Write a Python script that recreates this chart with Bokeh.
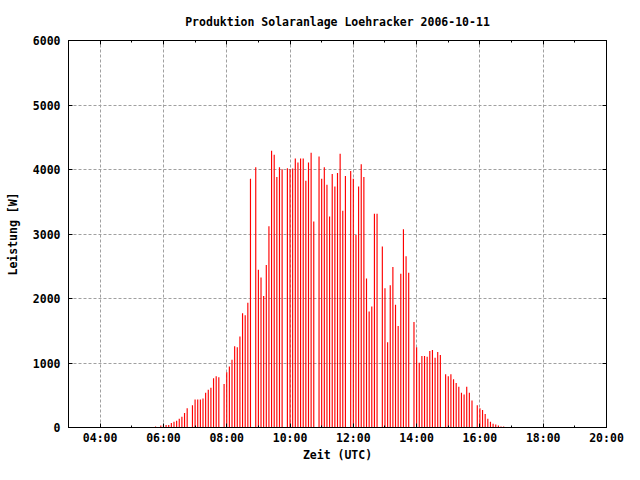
from bokeh.plotting import figure
from bokeh.models import Range1d, FixedTicker, LinearAxis, CustomJSTickFormatter
from bokeh.embed import file_html
from bokeh.resources import INLINE

# Sample times (UTC) and measured power [W]
times = [
    "05:45", "05:55", "06:00", "06:05", "06:10", "06:15", "06:20", "06:25", "06:30", "06:35",
    "06:40", "06:45", "06:55", "07:00", "07:05", "07:10", "07:15", "07:20", "07:25", "07:30",
    "07:35", "07:40", "07:45", "07:55", "08:00", "08:05", "08:10", "08:15", "08:20", "08:25",
    "08:30", "08:35", "08:40", "08:45", "08:55", "09:00", "09:05", "09:10", "09:15", "09:20",
    "09:25", "09:30", "09:35", "09:40", "09:45", "09:55", "10:00", "10:05", "10:10", "10:15",
    "10:20", "10:25", "10:30", "10:35", "10:40", "10:45", "10:55", "11:00", "11:05", "11:10",
    "11:15", "11:20", "11:25", "11:30", "11:35", "11:40", "11:45", "11:55", "12:00", "12:05",
    "12:10", "12:15", "12:20", "12:25", "12:30", "12:35", "12:40", "12:45", "12:55", "13:00",
    "13:05", "13:10", "13:15", "13:20", "13:25", "13:30", "13:35", "13:40", "13:45", "13:55",
    "14:00", "14:05", "14:10", "14:15", "14:20", "14:25", "14:30", "14:35", "14:40", "14:45",
    "14:55", "15:00", "15:05", "15:10", "15:15", "15:20", "15:25", "15:30", "15:35", "15:40",
    "15:45", "15:55", "16:00", "16:05", "16:10", "16:15", "16:20", "16:25", "16:30", "16:35",
    "16:40", "16:45",
]
power = [
    15, 30, 35, 40, 40, 70, 90, 105, 135, 165,
    225, 300, 345, 435, 435, 435, 450, 540, 585, 615,
    765, 795, 780, 675, 855, 945, 1050, 1260, 1245, 1410,
    1770, 1740, 1935, 3855, 4035, 2445, 2325, 2040, 2520, 3120,
    4290, 4230, 3885, 4035, 4005, 4020, 4005, 4015, 4170, 4110,
    4170, 4170, 3825, 4110, 4260, 3195, 4200, 3855, 4035, 3765,
    3270, 3930, 3735, 3945, 4245, 3360, 3900, 3975, 3855, 2985,
    3735, 4080, 3885, 2310, 1800, 1875, 3315, 3315, 2805, 2160,
    1320, 2205, 2490, 1905, 1575, 2385, 3075, 2655, 2400, 1635,
    1245, 1005, 1110, 1110, 1095, 1185, 1200, 1080, 1170, 1125,
    825, 795, 825, 750, 690, 630, 540, 510, 630, 540,
    420, 345, 300, 270, 210, 135, 90, 60, 45, 30,
    15, 15,
]

x_ticks = [4, 6, 8, 10, 12, 14, 16, 18, 20]
x_tick_labels = ["04:00", "06:00", "08:00", "10:00", "12:00", "14:00", "16:00", "18:00", "20:00"]
x_minor_ticks = [3, 5, 7, 9, 11, 13, 15, 17, 19]
y_ticks = [0, 1000, 2000, 3000, 4000, 5000, 6000]

title_text = "Produktion Solaranlage Loehracker 2006-10-11"
x_label = "Zeit (UTC)"
y_label = "Leistung [W]"

hours = [int(t[:2]) + int(t[3:]) / 60.0 for t in times]

FONT = "DejaVu Sans Mono"
FS = "11.5px"

p = figure(width=624, height=464, output_backend="svg", toolbar_location=None,
           x_range=Range1d(3, 20), y_range=Range1d(0, 6000),
           title=title_text,
           min_border_left=68, min_border_right=18, min_border_top=40, min_border_bottom=20)

p.background_fill_color = "white"
p.border_fill_color = "white"
p.outline_line_color = "black"
p.outline_line_width = 1

p.title.align = "center"
p.title.text_font = FONT
p.title.text_font_size = FS
p.title.text_font_style = "bold"
p.title.text_color = "black"
p.title.standoff = 24

xt = FixedTicker(ticks=x_ticks, minor_ticks=x_minor_ticks)
yt = FixedTicker(ticks=y_ticks, minor_ticks=[])

p.segment(x0=hours, y0=[0] * len(hours), x1=hours, y1=power,
          line_color="#ff0000", line_width=1.15)

def style_axis(ax):
    ax.axis_line_color = "black"
    ax.major_tick_line_color = "black"
    ax.minor_tick_line_color = "black"
    ax.major_tick_in = 4
    ax.major_tick_out = 0
    ax.minor_tick_in = 2
    ax.minor_tick_out = 0
    ax.major_label_text_font = FONT
    ax.major_label_text_font_size = FS
    ax.major_label_text_font_style = "bold"
    ax.major_label_text_color = "black"
    ax.axis_label_text_font = FONT
    ax.axis_label_text_font_size = FS
    ax.axis_label_text_font_style = "bold"
    ax.axis_label_text_color = "black"

xa = p.xaxis[0]
xa.ticker = xt
xa.major_label_overrides = {t: l for t, l in zip(x_ticks, x_tick_labels)}
xa.axis_label = x_label
style_axis(xa)
xa.major_label_standoff = 3
xa.axis_label_standoff = 0

ya = p.yaxis[0]
ya.ticker = yt
ya.axis_label = y_label
style_axis(ya)
ya.major_label_standoff = 8
ya.axis_label_standoff = 10

empty = CustomJSTickFormatter(code="return '';")
top = LinearAxis(ticker=xt, formatter=empty)
style_axis(top)
top.major_label_standoff = 0
right = LinearAxis(ticker=yt, formatter=empty)
style_axis(right)
right.major_label_standoff = 0
p.add_layout(top, "above")
p.add_layout(right, "right")

for g, t in ((p.xgrid[0], xt), (p.ygrid[0], yt)):
    g.ticker = t
    g.grid_line_color = "#a0a0a0"
    g.grid_line_dash = "3 2"
    g.grid_line_width = 1

open("out.html", "w").write(file_html(p, INLINE))
